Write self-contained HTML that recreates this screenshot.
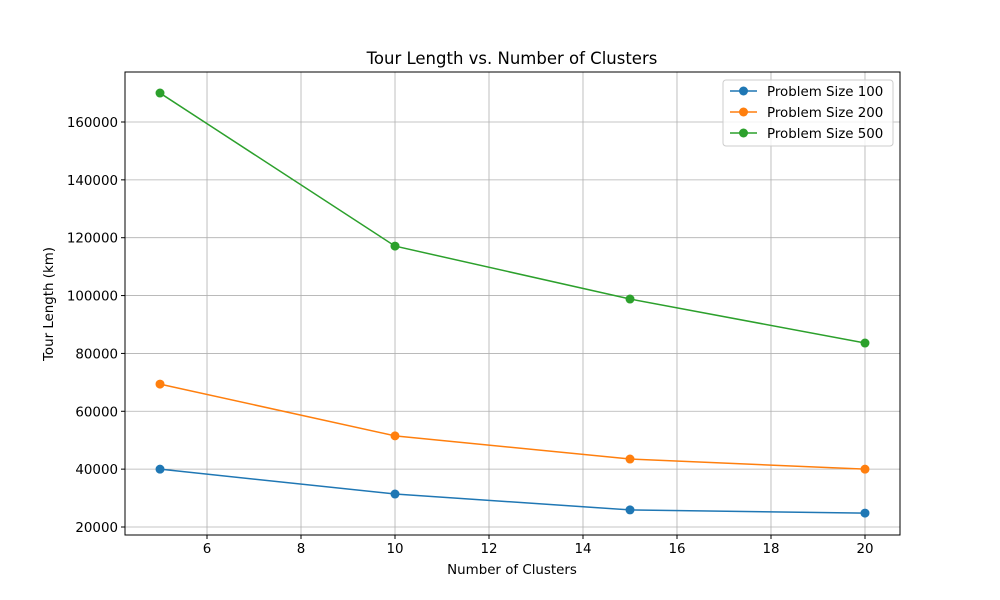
<!DOCTYPE html>
<html><head><meta charset="utf-8"><style>body{margin:0;background:#fff}svg{display:block;font-family:"DejaVu Sans","Liberation Sans",sans-serif}</style></head>
<body>
<svg id="chart" width="1000" height="600">
<rect x="0" y="0" width="1000" height="600" fill="#fff"/>
<g id="grid"></g>
<g id="series"></g>
<rect x="125" y="72" width="775" height="463" fill="none" stroke="#000" stroke-width="1"/>
<g id="ticks" font-size="13.4"></g>
<text x="512" y="64" text-anchor="middle" font-size="16.5">Tour Length vs. Number of Clusters</text>
<text x="512" y="574" text-anchor="middle" font-size="13.4">Number of Clusters</text>
<text transform="translate(53,304) rotate(-90)" text-anchor="middle" font-size="13.4">Tour Length (km)</text>
<g id="legend">
<rect x="723" y="80" width="170" height="66" rx="3" fill="#fff" fill-opacity="0.8" stroke="#ccc"/>
</g>
</svg>
<script>
const clusters=[5,10,15,20];
const size100=[40000,31400,25900,24800];
const size200=[69400,51500,43500,40000];
const size500=[170000,117100,98800,83600];
const seriesNames=["Problem Size 100","Problem Size 200","Problem Size 500"];
const xTicks=[6,8,10,12,14,16,18,20];
const yTicks=[20000,40000,60000,80000,100000,120000,140000,160000];
const colors=["#1f77b4","#ff7f0e","#2ca02c"];
const NS="http://www.w3.org/2000/svg";
const X0=125,X1=900,Y0=535,Y1=72,xmin=4.255,xmax=20.745,ymin=17235,ymax=177280;
function sx(v){return X0+(v-xmin)/(xmax-xmin)*(X1-X0);}
function sy(v){return Y0-(v-ymin)/(ymax-ymin)*(Y0-Y1);}
function mk(t,a,p){const e=document.createElementNS(NS,t);for(const k in a)e.setAttribute(k,a[k]);p.appendChild(e);return e;}
const grid=document.getElementById('grid'),ticks=document.getElementById('ticks');
xTicks.forEach(v=>{const x=sx(v);
 const g=mk('line',{x1:x,x2:x,y1:Y1,y2:Y0,stroke:'#b0b0b0','stroke-width':0.8},grid);
 
 
 mk('line',{x1:x,x2:x,y1:Y0,y2:Y0+4,stroke:'#000'},ticks);
 const t=mk('text',{x:x,y:Y0+18,'text-anchor':'middle'},ticks);t.textContent=v;
 
 });
yTicks.forEach(v=>{const y=sy(v);
 const g=mk('line',{x1:X0,x2:X1,y1:y,y2:y,stroke:'#b0b0b0','stroke-width':0.8},grid);
 
 
 mk('line',{x1:X0-4,x2:X0,y1:y,y2:y,stroke:'#000'},ticks);
 const t=mk('text',{x:X0-7,y:y+5,'text-anchor':'end'},ticks);t.textContent=v;
 
 });
const ser=document.getElementById('series'),leg=document.getElementById('legend');
[size100,size200,size500].forEach((d,i)=>{
 const g=mk('g',{},ser);
 
 
 mk('polyline',{points:clusters.map((c,j)=>sx(c)+','+sy(d[j])).join(' '),fill:'none',stroke:colors[i],'stroke-width':1.5},g);
 clusters.forEach((c,j)=>{const p=mk('circle',{cx:sx(c),cy:sy(d[j]),r:4.5,fill:colors[i]},g);
  
  });
 const ly=91+i*21;
 const le=mk('g',{},leg);
 
 
 mk('line',{x1:730,x2:757,y1:ly,y2:ly,stroke:colors[i],'stroke-width':1.5},le);
 mk('circle',{cx:743.5,cy:ly,r:4.5,fill:colors[i]},le);
 const t=mk('text',{x:767,y:ly+5,'font-size':13.4},le);t.textContent=seriesNames[i];
});
</script>
</body></html>
